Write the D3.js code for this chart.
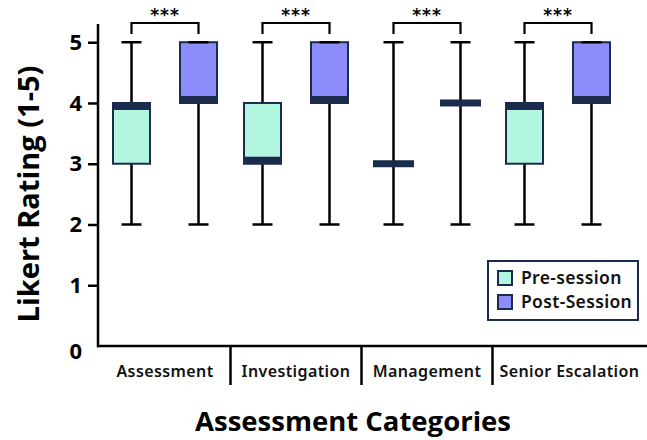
<!DOCTYPE html>
<html>
<head>
<meta charset="utf-8">
<script src="https://cdn.jsdelivr.net/npm/d3@7"></script>
<style>
  html, body { margin: 0; padding: 0; background: #fff; }
  svg { display: block; }
</style>
</head>
<body>
<svg id="chart" width="647" height="440"></svg>
<script>
// Likert ratings per assessment category, before and after the session
const categories = ["Assessment", "Investigation", "Management", "Senior Escalation"];
const groups = ["Pre-session", "Post-Session"];

const preMin    = [2, 2, 2, 2];
const preQ1     = [3, 3, 3, 3];
const preMedian = [4, 3, 3, 4];
const preQ3     = [4, 4, 3, 4];
const preMax    = [5, 5, 5, 5];

const postMin    = [2, 2, 2, 2];
const postQ1     = [4, 4, 4, 4];
const postMedian = [4, 4, 4, 4];
const postQ3     = [5, 5, 4, 5];
const postMax    = [5, 5, 5, 5];

const significance = ["***", "***", "***", "***"];
const yTicks = [0, 1, 2, 3, 4, 5];

const fills = { "Pre-session": "#b3f6df", "Post-Session": "#8c8cfb" };
const navy = "#1b2b4e";

const boxes = [];
categories.forEach((c, i) => {
  boxes.push({ cat: c, group: groups[0], min: preMin[i], q1: preQ1[i], med: preMedian[i], q3: preQ3[i], max: preMax[i] });
  boxes.push({ cat: c, group: groups[1], min: postMin[i], q1: postQ1[i], med: postMedian[i], q3: postQ3[i], max: postMax[i] });
});

const svg = d3.select("#chart");

const x = d3.scaleBand().domain(categories).range([99.5, 623.5]);
const xg = d3.scalePoint().domain(groups).range([-33.5, 33.5]);
const y = d3.scaleLinear().domain([0, 5.3]).range([346, 24]);

const cx = d => x(d.cat) + x.bandwidth() / 2 + xg(d.group);
const boxW = 37, capW = 20, medW = 41, medH = 7;

// Axes
const yAxis = svg.append("g").attr("transform", "translate(98,0)")
  .call(d3.axisLeft(y).tickValues(yTicks).tickSize(10).tickPadding(6).tickFormat(d3.format("d")));
yAxis.select(".domain").remove();
yAxis.selectAll(".tick line").attr("stroke", "#000").attr("stroke-width", 2.5);
yAxis.selectAll(".tick").filter(d => d === 0).select("line").remove();
yAxis.selectAll(".tick text")
  .attr("font-family", "'Open Sans', sans-serif").attr("font-weight", 700)
  .attr("font-size", 22).attr("fill", "#000");
yAxis.selectAll(".tick").filter(d => d === 0).select("text").attr("dy", "0.55em");

svg.append("line").attr("x1", 98).attr("x2", 98).attr("y1", y(5.3)).attr("y2", y(0) + 1.25)
  .attr("stroke", "#000").attr("stroke-width", 2.5);
svg.append("line").attr("x1", 97).attr("x2", 647).attr("y1", y(0)).attr("y2", y(0))
  .attr("stroke", "#000").attr("stroke-width", 2.5);

// Category separators and labels
const xAxis = svg.append("g").attr("transform", `translate(0,${y(0)})`)
  .call(d3.axisBottom(x).tickSize(0).tickPadding(0));
xAxis.select(".domain").remove();
xAxis.selectAll(".tick text")
  .attr("y", 25).attr("dy", "0.35em")
  .attr("font-family", "'Noto Sans', sans-serif").attr("font-weight", 600)
  .attr("font-size", 16).attr("letter-spacing", 0.4).attr("fill", "#111");
// keep each label clear of the separator on its left
xAxis.selectAll(".tick text").each(function (d) {
  const w = this.getComputedTextLength();
  const half = x.bandwidth() / 2;
  const minCenter = -half + 7 + w / 2;
  if (minCenter > 0) d3.select(this).attr("x", minCenter);
});

svg.append("g").selectAll("line").data(categories.slice(1)).join("line")
  .attr("x1", d => x(d)).attr("x2", d => x(d))
  .attr("y1", y(0)).attr("y2", y(0) + 39)
  .attr("stroke", "#000").attr("stroke-width", 2.5);

// Box plots
const g = svg.append("g");
g.selectAll(".whisker").data(boxes).join("line")
  .attr("x1", cx).attr("x2", cx)
  .attr("y1", d => y(d.min)).attr("y2", d => y(d.max))
  .attr("stroke", "#000").attr("stroke-width", 2.5);

g.selectAll(".box").data(boxes.filter(d => d.q3 > d.q1)).join("rect")
  .attr("x", d => cx(d) - boxW / 2).attr("width", boxW)
  .attr("y", d => y(d.q3)).attr("height", d => y(d.q1) - y(d.q3))
  .attr("fill", d => fills[d.group]).attr("stroke", navy).attr("stroke-width", 2);

g.selectAll(".cap").data(boxes.flatMap(d => [{ b: d, v: d.min }, { b: d, v: d.max }])).join("line")
  .attr("x1", d => cx(d.b) - capW / 2).attr("x2", d => cx(d.b) + capW / 2)
  .attr("y1", d => y(d.v)).attr("y2", d => y(d.v))
  .attr("stroke", "#000").attr("stroke-width", 2.5);

// Median bars, kept inside the box where there is one
g.selectAll(".median").data(boxes).join("rect")
  .attr("x", d => cx(d) - (d.q3 > d.q1 ? boxW : medW) / 2)
  .attr("width", d => (d.q3 > d.q1 ? boxW : medW))
  .attr("y", d => {
    let top = y(d.med) - medH / 2;
    if (d.q3 > d.q1) top = Math.min(Math.max(top, y(d.q3)), y(d.q1) - medH);
    return top;
  })
  .attr("height", medH)
  .attr("fill", navy);

// Significance brackets
const sig = svg.append("g");
categories.forEach((c, i) => {
  const x1 = x(c) + x.bandwidth() / 2 + xg(groups[0]);
  const x2 = x(c) + x.bandwidth() / 2 + xg(groups[1]);
  const top = y(5.3) - 1, bot = top + 11;
  sig.append("path")
    .attr("d", `M${x1},${bot}V${top}H${x2}V${bot}`)
    .attr("fill", "none").attr("stroke", "#000").attr("stroke-width", 2.2);
  sig.append("text").attr("x", (x1 + x2) / 2).attr("y", top - 2)
    .attr("text-anchor", "middle")
    .attr("font-family", "'DejaVu Sans', sans-serif").attr("font-weight", 700)
    .attr("font-size", 17).attr("letter-spacing", 1).text(significance[i]);
});

// Axis titles
svg.append("text")
  .attr("transform", "translate(39,194) rotate(-90)")
  .attr("text-anchor", "middle")
  .attr("font-family", "'Open Sans', sans-serif").attr("font-weight", 700)
  .attr("font-size", 29).attr("fill", "#000")
  .text("Likert Rating (1-5)");

svg.append("text")
  .attr("x", 353).attr("y", 431)
  .attr("text-anchor", "middle")
  .attr("font-family", "'Open Sans', sans-serif").attr("font-weight", 700)
  .attr("font-size", 27.5).attr("fill", "#000")
  .text("Assessment Categories");

// Legend
const legend = svg.append("g").attr("transform", "translate(488,261)");
legend.append("rect").attr("width", 150).attr("height", 59)
  .attr("fill", "#fff").attr("stroke", navy).attr("stroke-width", 2);
groups.forEach((grp, i) => {
  legend.append("rect").attr("x", 10).attr("y", 10 + i * 24).attr("width", 14).attr("height", 14)
    .attr("fill", fills[grp]).attr("stroke", navy).attr("stroke-width", 2);
  legend.append("text").attr("x", 33).attr("y", 17 + i * 24).attr("dy", "0.36em")
    .attr("font-family", "'Noto Sans', sans-serif").attr("font-weight", 600)
    .attr("font-size", 17.5).attr("letter-spacing", 0.35).attr("fill", "#111").text(grp);
});
</script>
</body>
</html>
